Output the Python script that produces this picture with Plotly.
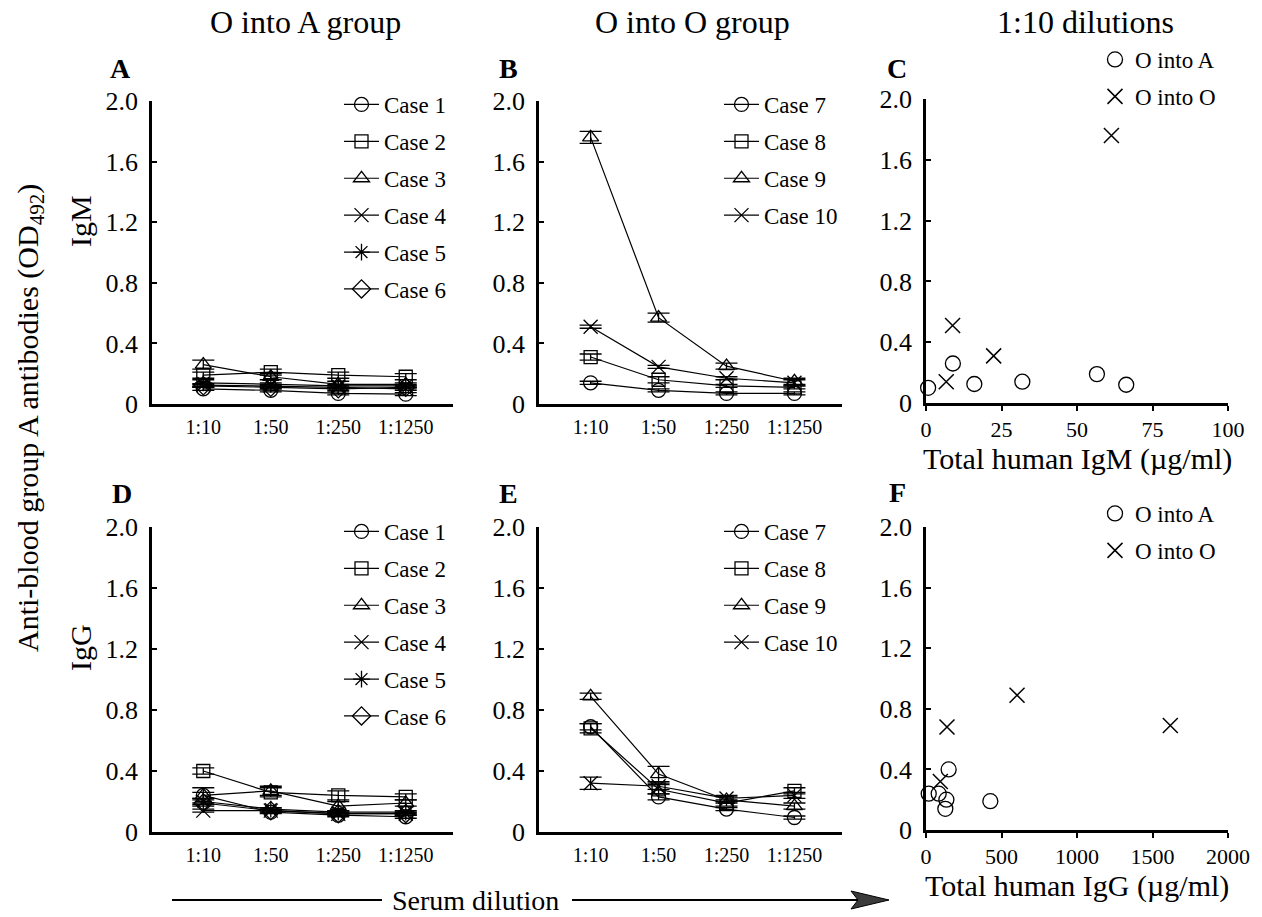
import plotly.graph_objects as go

# ---------------- data ----------------
dilutions = ["1:10", "1:50", "1:250", "1:1250"]

# IgM anti-A (OD492), O into A group, cases 1-6
igm_oa = {
    "Case 1": [0.10, 0.09, 0.07, 0.065],
    "Case 2": [0.19, 0.21, 0.19, 0.18],
    "Case 3": [0.26, 0.18, 0.13, 0.13],
    "Case 4": [0.125, 0.12, 0.11, 0.10],
    "Case 5": [0.14, 0.13, 0.12, 0.12],
    "Case 6": [0.12, 0.11, 0.10, 0.11],
}
igm_oa_err = {
    "Case 1": [0.01, 0.01, 0.01, 0.01],
    "Case 2": [0.02, 0.02, 0.02, 0.02],
    "Case 3": [0.03, 0.02, 0.02, 0.01],
    "Case 4": [0.01, 0.01, 0.01, 0.01],
    "Case 5": [0.02, 0.01, 0.01, 0.01],
    "Case 6": [0.01, 0.01, 0.01, 0.01],
}

# IgM anti-A (OD492), O into O group, cases 7-10
igm_oo = {
    "Case 7": [0.14, 0.09, 0.07, 0.07],
    "Case 8": [0.31, 0.16, 0.12, 0.11],
    "Case 9": [1.76, 0.57, 0.25, 0.15],
    "Case 10": [0.51, 0.245, 0.17, 0.14],
}
igm_oo_err = {
    "Case 7": [0.01, 0.01, 0.01, 0.01],
    "Case 8": [0.02, 0.02, 0.01, 0.01],
    "Case 9": [0.04, 0.03, 0.02, 0.02],
    "Case 10": [0.01, 0.01, 0.01, 0.02],
}

# IgG anti-A (OD492), O into A group
igg_oa = {
    "Case 1": [0.24, 0.13, 0.11, 0.10],
    "Case 2": [0.40, 0.26, 0.24, 0.23],
    "Case 3": [0.24, 0.27, 0.17, 0.19],
    "Case 4": [0.14, 0.14, 0.12, 0.12],
    "Case 5": [0.20, 0.15, 0.13, 0.13],
    "Case 6": [0.19, 0.14, 0.12, 0.12],
}
igg_oa_err = {
    "Case 1": [0.02, 0.01, 0.01, 0.01],
    "Case 2": [0.02, 0.03, 0.03, 0.02],
    "Case 3": [0.05, 0.03, 0.03, 0.02],
    "Case 4": [0.01, 0.01, 0.01, 0.01],
    "Case 5": [0.02, 0.01, 0.01, 0.01],
    "Case 6": [0.02, 0.01, 0.01, 0.01],
}

# IgG anti-A (OD492), O into O group
igg_oo = {
    "Case 7": [0.69, 0.23, 0.15, 0.095],
    "Case 8": [0.68, 0.28, 0.19, 0.27],
    "Case 9": [0.89, 0.38, 0.21, 0.17],
    "Case 10": [0.32, 0.30, 0.22, 0.24],
}
igg_oo_err = {
    "Case 7": [0.02, 0.02, 0.01, 0.01],
    "Case 8": [0.03, 0.03, 0.02, 0.02],
    "Case 9": [0.02, 0.05, 0.02, 0.02],
    "Case 10": [0.04, 0.02, 0.02, 0.02],
}

# Total human immunoglobulin (ug/ml) per case
total_igm_oa = {"Case 1": 0.7, "Case 2": 56.6, "Case 3": 8.9, "Case 4": 16.0, "Case 5": 31.9, "Case 6": 66.3}
total_igm_oo = {"Case 7": 6.7, "Case 8": 22.4, "Case 9": 61.4, "Case 10": 8.8}
total_igg_oa = {"Case 1": 18, "Case 2": 150, "Case 3": 84, "Case 4": 128, "Case 5": 135, "Case 6": 426}
total_igg_oo = {"Case 7": 1618, "Case 8": 139, "Case 9": 603, "Case 10": 95}

symbols = {
    "Case 1": "circle-open", "Case 2": "square-open", "Case 3": "triangle-up-open",
    "Case 4": "x-thin-open", "Case 5": "asterisk-open", "Case 6": "diamond-open",
    "Case 7": "circle-open", "Case 8": "square-open", "Case 9": "triangle-up-open",
    "Case 10": "x-thin-open",
}
sizes = {"circle-open": 14, "square-open": 13, "triangle-up-open": 14,
         "x-thin-open": 14, "asterisk-open": 14, "diamond-open": 14}

# ---------------- layout helpers ----------------
W, H = 1262, 917
FONT = "Liberation Serif, Times New Roman, serif"


def fx(px):
    return px / W


def fy(py):
    return 1 - py / H


fig = go.Figure()


def add_dilution_panel(data, err, axis_id, legend_id):
    for name, vals in data.items():
        sym = symbols[name]
        fig.add_trace(go.Scatter(
            x=dilutions, y=vals, name=name, mode="lines+markers",
            xaxis="x" + axis_id, yaxis="y" + axis_id,
            legend=legend_id, legendgroup=legend_id + name,
            line=dict(color="black", width=1.2),
            marker=dict(symbol=sym, size=sizes[sym], color="black",
                        line=dict(color="black", width=1.3)),
            error_y=dict(type="data", array=err[name], visible=True,
                         color="black", thickness=1.3, width=11),
            cliponaxis=False,
        ))


def add_total_panel(oa_tot, oa_od, oo_tot, oo_od, axis_id, legend_id):
    fig.add_trace(go.Scatter(
        x=[oa_tot[k] for k in oa_od], y=[oa_od[k][0] for k in oa_od],
        name="O into A", mode="markers",
        xaxis="x" + axis_id, yaxis="y" + axis_id, legend=legend_id,
        legendgroup=legend_id + "a",
        marker=dict(symbol="circle-open", size=15, color="black",
                    line=dict(color="black", width=1.3)),
        cliponaxis=False,
    ))
    fig.add_trace(go.Scatter(
        x=[oo_tot[k] for k in oo_od], y=[oo_od[k][0] for k in oo_od],
        name="O into O", mode="markers",
        xaxis="x" + axis_id, yaxis="y" + axis_id, legend=legend_id,
        legendgroup=legend_id + "o",
        marker=dict(symbol="x-thin-open", size=15, color="black",
                    line=dict(color="black", width=1.5)),
        cliponaxis=False,
    ))


add_dilution_panel(igm_oa, igm_oa_err, "", "legend")
add_dilution_panel(igm_oo, igm_oo_err, "2", "legend2")
add_total_panel(total_igm_oa, igm_oa, total_igm_oo, igm_oo, "3", "legend3")
add_dilution_panel(igg_oa, igg_oa_err, "4", "legend4")
add_dilution_panel(igg_oo, igg_oo_err, "5", "legend5")
add_total_panel(total_igg_oa, igg_oa, total_igg_oo, igg_oo, "6", "legend6")

# ---------------- axes ----------------
y_ticks = [0, 0.4, 0.8, 1.2, 1.6, 2.0]
y_text = ["0", "0.4", "0.8", "1.2", "1.6", "2.0"]

yax = dict(range=[0, 2.0], tickvals=y_ticks, ticktext=y_text,
           showgrid=False, zeroline=False, showline=True, automargin=False,
           linecolor="black", linewidth=2.5, ticks="inside", ticklen=5,
           tickwidth=2, tickcolor="black", ticklabelstandoff=6,
           tickfont=dict(family=FONT, size=26, color="black"))
xcat = dict(type="category", range=[-0.76, 3.7], showgrid=False,
            zeroline=False, showline=True, linecolor="black", linewidth=2.5,
            ticks="", ticklabelstandoff=3, automargin=False,
            tickfont=dict(family=FONT, size=20, color="black"))
xnum = dict(showgrid=False, zeroline=False, showline=True, linecolor="black",
            linewidth=2.5, ticks="outside", ticklen=5, tickwidth=2,
            tickcolor="black", ticklabelstandoff=0, automargin=False,
            tickfont=dict(family=FONT, size=22, color="black"))

col_x = {"A": (152, 453), "B": (539, 842), "C": (926, 1228)}
row_top = (101, 404)
row_bot = (527, 832)

layout_axes = {}


def set_axes(axis_id, xspec, xdom, ydom):
    xa = "xaxis" + axis_id
    ya = "yaxis" + axis_id
    layout_axes[xa] = dict(xspec, domain=[fx(xdom[0]), fx(xdom[1])],
                           anchor="y" + axis_id)
    layout_axes[ya] = dict(yax, domain=[fy(ydom[1]), fy(ydom[0])],
                           anchor="x" + axis_id)


set_axes("", xcat, col_x["A"], row_top)
set_axes("2", xcat, col_x["B"], row_top)
set_axes("3", dict(xnum, range=[0, 100], tickvals=[0, 25, 50, 75, 100]),
         col_x["C"], (99, 403))
set_axes("4", xcat, col_x["A"], row_bot)
set_axes("5", xcat, col_x["B"], row_bot)
set_axes("6", dict(xnum, range=[0, 2000], tickvals=[0, 500, 1000, 1500, 2000]),
         col_x["C"], (527, 830))

# ---------------- legends ----------------
def legend_at(px, py, width=35):
    return dict(x=fx(px), y=fy(py), xanchor="left", yanchor="top",
                bgcolor="rgba(0,0,0,0)", borderwidth=0, itemwidth=width,
                font=dict(family=FONT, size=23, color="black"),
                traceorder="grouped", tracegroupgap=4, itemsizing="trace")


legends = {
    "legend": legend_at(339, 83),
    "legend2": legend_at(719, 83),
    "legend3": legend_at(1095, 38, 30),
    "legend4": legend_at(339, 510),
    "legend5": legend_at(719, 510),
    "legend6": legend_at(1095, 492, 30),
}

# ---------------- text ----------------
ann = []


def text(px, py, s, size, bold=False, angle=0, xanchor="center"):
    ann.append(dict(x=fx(px), y=fy(py), xref="paper", yref="paper",
                    text=("<b>%s</b>" % s) if bold else s, showarrow=False,
                    textangle=angle, xanchor=xanchor, yanchor="middle",
                    font=dict(family=FONT, size=size, color="black")))


text(305, 22, "O into A group", 32)
text(692, 22, "O into O group", 32)
text(1085, 22, "1:10 dilutions", 32)
for lbl, (px, py) in {"A": (120, 68), "B": (508, 68), "C": (897, 68),
                      "D": (122, 494), "E": (508, 494), "F": (897, 493)}.items():
    text(px, py, lbl, 28, bold=True)
text(80, 221, "IgM", 30, angle=-90)
text(80, 648, "IgG", 30, angle=-90)
text(30, 418, "Anti-blood group A antibodies (OD<sub>492</sub>)", 30, angle=-90)
text(1077, 459, "Total human IgM (µg/ml)", 30)
text(1077, 886, "Total human IgG (µg/ml)", 30)
text(390, 900, "Serum dilution", 28, xanchor="left")

# serum dilution arrow: two rules and a filled head
line_style = dict(color="black", width=2.2)
shapes = [
    dict(type="line", xref="paper", yref="paper", x0=fx(172), x1=fx(382),
         y0=fy(900), y1=fy(900), line=line_style),
    dict(type="line", xref="paper", yref="paper", x0=fx(572), x1=fx(862),
         y0=fy(900), y1=fy(900), line=line_style),
    dict(type="path", xref="paper", yref="paper",
         path="M {},{} L {},{} L {},{} L {},{} Z".format(
             fx(889), fy(900), fx(851), fy(891), fx(858), fy(900),
             fx(851), fy(909)),
         fillcolor="#3a3a3a", line=dict(color="black", width=1)),
]

fig.update_layout(
    width=W, height=H,
    margin=dict(l=0, r=0, t=0, b=0, pad=0, autoexpand=False),
    paper_bgcolor="white", plot_bgcolor="white",
    font=dict(family=FONT, color="black"),
    annotations=ann, shapes=shapes, showlegend=True,
    **layout_axes, **legends,
)

fig.write_html("out.html")
